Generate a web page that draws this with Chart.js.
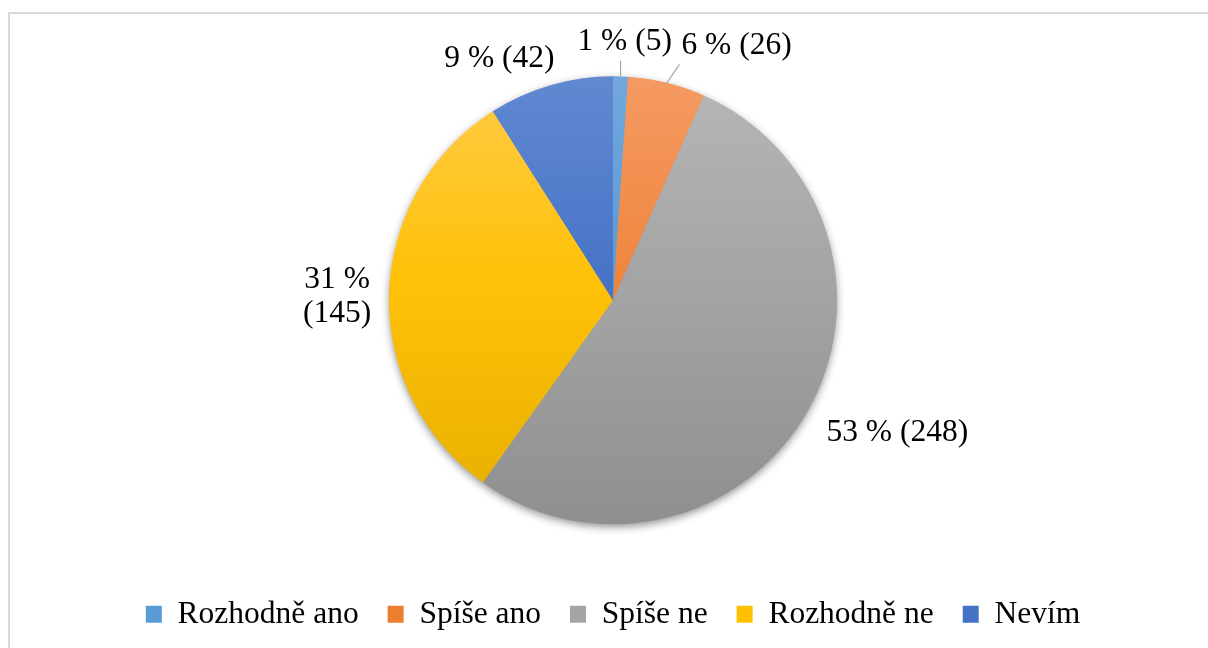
<!DOCTYPE html>
<html><head><meta charset="utf-8">
<script src="https://cdn.jsdelivr.net/npm/chart.js@4.4.0/dist/chart.umd.min.js"></script>
<style>
html,body{margin:0;padding:0;background:#fff;overflow:hidden;width:1208px;height:648px;}
#frame{position:absolute;left:8px;top:12px;width:1400px;height:900px;border:2px solid #D9D9D9;box-sizing:border-box;}
#wrap{position:absolute;left:0;top:0;width:1208px;height:648px;}
</style></head><body>
<div id="frame"></div>
<div id="wrap"><canvas id="c" width="1208" height="648"></canvas></div>
<script>
// ---- data ----
const categories = ['Rozhodně ano', 'Spíše ano', 'Spíše ne', 'Rozhodně ne', 'Nevím'];
const counts = [5, 26, 248, 145, 42];
const colorsTop = ['#72A7DD', '#F59A62', '#B6B6B6', '#FFCA48', '#6189D2'];
const colorsMid = ['#5B9BD5', '#EF863F', '#A5A5A5', '#FFC208', '#4774C6'];
const colorsBottom = ['#4A8BCB', '#DC6A1B', '#8F8F8F', '#E6AE00', '#2F5DBA'];
const colorsLegend = ['#5B9BD5', '#ED7D31', '#A5A5A5', '#FFC000', '#4472C4'];

// ---- label layout tweaks (text placement only) ----
const labelBreak = [false, false, false, true, false];
const labelLeader = [true, true, false, false, false];
const labelNudge = [[3, -1], [59, 6], [16, -21], [-2, 4], [-38, 18]];

const FONT_FAMILY = '"Liberation Serif", "Times New Roman", serif';
const FONT_SIZE = 31.5;
const LINE_H = 34;
const GAP = 15;
const PIE_RADIUS = 224;

const total = counts.reduce((a, b) => a + b, 0);
function labelLines(i) {
  const pct = Math.round(counts[i] / total * 100) + ' %';
  const cnt = '(' + counts[i] + ')';
  return labelBreak[i] ? [pct, cnt] : [pct + ' ' + cnt];
}

function gradFill(ctx) {
  const i = ctx.dataIndex;
  const chart = ctx.chart;
  const ca = chart.chartArea;
  if (!ca || i === undefined) return colorsLegend[i || 0];
  const cy = (ca.top + ca.bottom) / 2;
  const g = chart.ctx.createLinearGradient(0, cy - PIE_RADIUS, 0, cy + PIE_RADIUS);
  g.addColorStop(0, colorsTop[i]);
  g.addColorStop(0.45, colorsMid[i]);
  g.addColorStop(1, colorsBottom[i]);
  return g;
}

const shadowPlugin = {
  id: 'pieShadow',
  beforeDatasetsDraw(chart) {
    const arc = chart.getDatasetMeta(0).data[0];
    if (!arc) return;
    const { x, y, outerRadius } = arc.getProps(['x', 'y', 'outerRadius'], true);
    const ctx = chart.ctx;
    ctx.save();
    ctx.shadowColor = 'rgba(0,0,0,0.45)';
    ctx.shadowBlur = 9;
    ctx.shadowOffsetX = 0;
    ctx.shadowOffsetY = 3;
    ctx.beginPath();
    ctx.arc(x, y, outerRadius - 0.5, 0, Math.PI * 2);
    ctx.fillStyle = '#A0A0A0';
    ctx.fill();
    ctx.restore();
  }
};

const labelPlugin = {
  id: 'pieLabels',
  afterDatasetsDraw(chart) {
    const ctx = chart.ctx;
    const meta = chart.getDatasetMeta(0);
    ctx.save();
    ctx.font = FONT_SIZE + 'px ' + FONT_FAMILY;
    ctx.textAlign = 'center';
    ctx.textBaseline = 'middle';
    meta.data.forEach((arc, i) => {
      const p = arc.getProps(['x', 'y', 'startAngle', 'endAngle', 'outerRadius'], true);
      const mid = (p.startAngle + p.endAngle) / 2;
      const ux = Math.cos(mid), uy = Math.sin(mid);
      const lines = labelLines(i);
      const w = Math.max(...lines.map(t => ctx.measureText(t).width));
      const h = lines.length * LINE_H;
      const ext = w / 2 * Math.abs(ux) + h / 2 * Math.abs(uy);
      const d = p.outerRadius + ext + GAP;
      const cx = p.x + ux * d + labelNudge[i][0];
      const cy = p.y + uy * d + labelNudge[i][1];
      if (labelLeader[i]) {
        const ax = p.x + ux * p.outerRadius, ay = p.y + uy * p.outerRadius;
        const pad = 2;
        const l = cx - w / 2 - pad, r = cx + w / 2 + pad, t = cy - h / 2 - pad, b = cy + h / 2 + pad;
        const nx = Math.min(Math.max(ax, l), r);
        const ny = Math.min(Math.max(ay, t), b);
        ctx.beginPath();
        ctx.moveTo(ax, ay);
        ctx.lineTo(nx, ny);
        ctx.strokeStyle = '#A6A6A6';
        ctx.lineWidth = 1.2;
        ctx.stroke();
      }
      ctx.fillStyle = '#000000';
      lines.forEach((t, k) => ctx.fillText(t, cx, cy - h / 2 + LINE_H * (k + 0.5)));
    });
    ctx.restore();
  }
};

new Chart(document.getElementById('c'), {
  type: 'pie',
  data: {
    labels: categories,
    datasets: [{
      data: counts,
      backgroundColor: gradFill,
      borderWidth: 0,
      hoverOffset: 0
    }]
  },
  options: {
    responsive: false,
    animation: false,
    radius: PIE_RADIUS,
    layout: { padding: { top: 31, bottom: 8, left: 18, right: 0 } },
    plugins: {
      tooltip: { enabled: false },
      legend: {
        position: 'bottom',
        labels: {
          font: { family: FONT_FAMILY, size: FONT_SIZE },
          color: '#000000',
          boxWidth: 16,
          boxHeight: 17,
          padding: 29,
          generateLabels(chart) {
            return categories.map((c, i) => ({
              text: c,
              fillStyle: colorsLegend[i],
              strokeStyle: colorsLegend[i],
              lineWidth: 0,
              hidden: false,
              index: i,
              fontColor: '#000000'
            }));
          }
        }
      }
    }
  },
  plugins: [shadowPlugin, labelPlugin]
});
</script>
</body></html>
